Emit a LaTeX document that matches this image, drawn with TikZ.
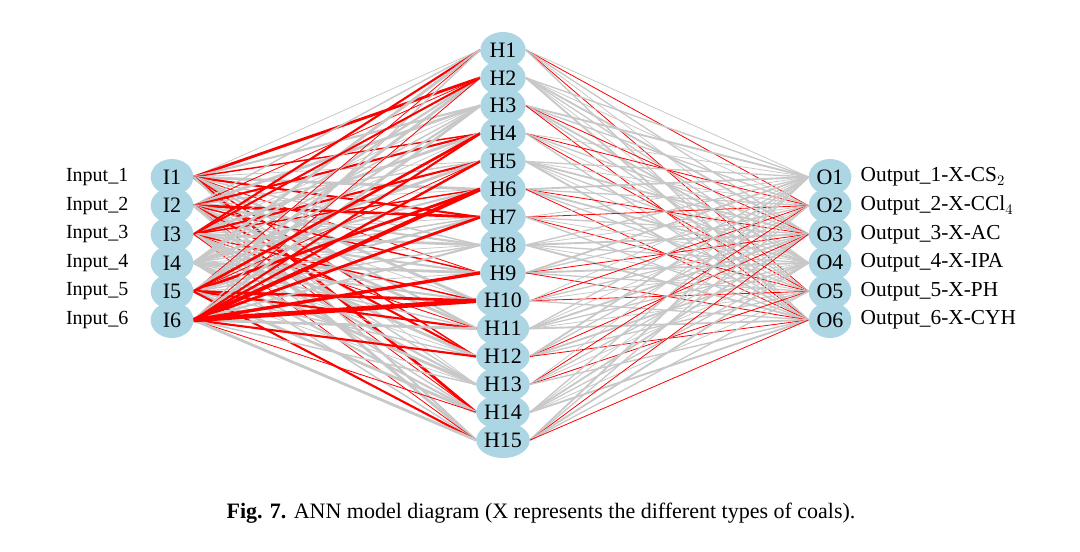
\documentclass[tikz,border=0pt]{standalone}
\usepackage{fontspec}
\setmainfont{Liberation Serif}
\usetikzlibrary{shapes.geometric,backgrounds}
\definecolor{nodeblue}{RGB}{173,214,228}
\definecolor{edgegray}{RGB}{200,200,200}
\tikzset{
  nd/.style={ellipse,fill=nodeblue,minimum width=32pt,minimum height=27pt,inner sep=0pt,font=\fontsize{16.5}{16.5}\selectfont},
  lab/.style={font=\fontsize{15}{15}\selectfont},
  er/.style={red,line width=0.6pt},
  eg/.style={edgegray,line width=0.6pt},
}
\begin{document}
\begin{tikzpicture}[x=0.75pt,y=-0.75pt]
\useasboundingbox (0,0) rectangle (1080,551);
\foreach \i in {1,...,6}{
  \node[nd] (I\i) at (172,{177+28.6*(\i-1)}) {I\i};
  \node[lab,anchor=east] at (133,{177+28.6*(\i-1)}) {Input\_\i};
  \node[nd] (O\i) at (830,{177+28.6*(\i-1)}) {O\i};
}
\foreach \j in {1,...,15}{
  \node[nd,minimum width=34pt] (H\j) at (503,{50+27.86*(\j-1)}) {H\j};
}
\begin{scope}[every node/.style={lab,anchor=west,font=\fontsize{16}{16}\selectfont}]
\node at (856,177) {Output\_1-X-CS$_2$};
\node at (856,205.6) {Output\_2-X-CCl$_4$};
\node at (856,234.2) {Output\_3-X-AC};
\node at (856,262.8) {Output\_4-X-IPA};
\node at (856,291.4) {Output\_5-X-PH};
\node at (856,320) {Output\_6-X-CYH};
\end{scope}
\node[font=\fontsize{16.5}{16.5}\selectfont] at (541,513) {\textbf{Fig. 7.} ANN model diagram (X represents the different types of coals).};
\begin{pgfonlayer}{background}
\foreach \i in {1,...,6}{
  \foreach \j in {1,...,15}{
    \pgfmathtruncatemacro{\r}{mod(\i*7+\j*11+\i*\j,5)}
    \pgfmathtruncatemacro{\w}{mod(\i*5+\j*3,4)}
    \ifnum\r<2
      \draw[er,line width={0.6pt+0.5pt*\w}] (I\i.east) -- (H\j.west);
    \else
      \draw[eg,line width={0.6pt+0.5pt*\w}] (I\i.east) -- (H\j.west);
    \fi
  }
}
\draw[red,line width=3pt] (I6.east) -- (H6.west);
\draw[red,line width=3.5pt] (I6.east) -- (H10.west);
\draw[red,line width=2.5pt] (I6.east) -- (H9.west);
\draw[red,line width=2pt] (I5.east) -- (H4.west);
\draw[red,line width=1.8pt] (I6.east) -- (H5.west);
\draw[red,line width=1.5pt] (I3.east) -- (H2.west);
\foreach \j in {1,...,15}{
  \foreach \k in {1,...,6}{
    \pgfmathtruncatemacro{\r}{mod(\j*5+\k*7+\j*\k,3)}
    \pgfmathtruncatemacro{\w}{mod(\j+\k*2,3)}
    \ifnum\r=0
      \draw[er] (H\j.east) -- (O\k.west);
    \else
      \draw[eg,line width={0.6pt+0.4pt*\w}] (H\j.east) -- (O\k.west);
    \fi
  }
}
\end{pgfonlayer}
\end{tikzpicture}
\end{document}
